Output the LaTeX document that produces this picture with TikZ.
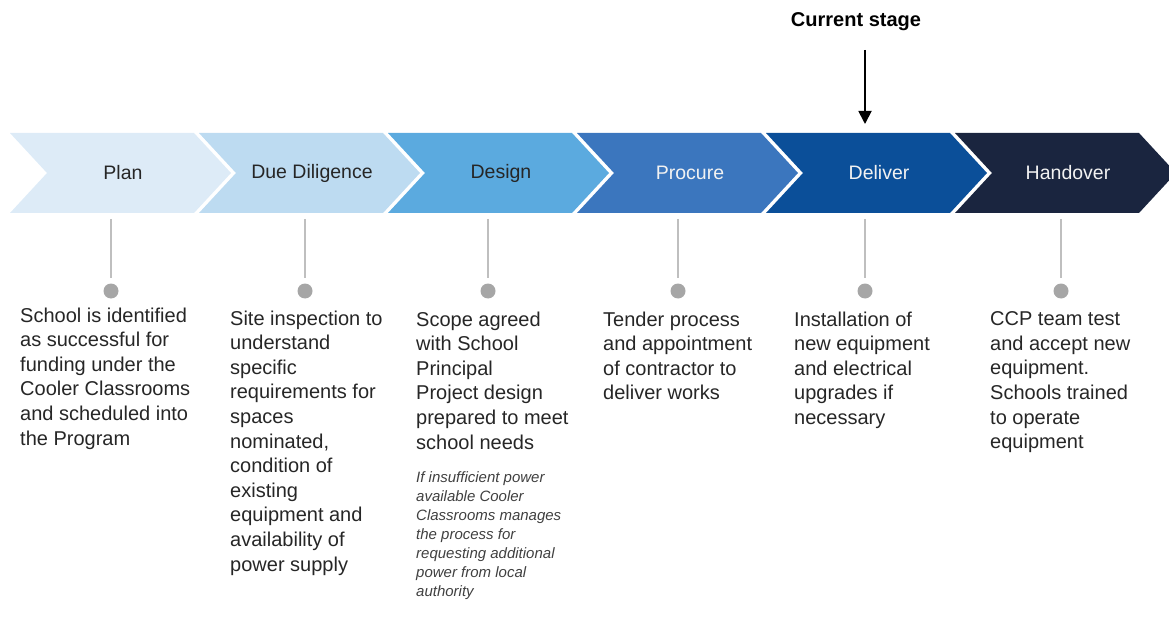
\documentclass[tikz,border=0pt]{standalone}
\usepackage{fontspec}
\setmainfont{Liberation Sans}
\usetikzlibrary{arrows.meta}
\definecolor{planc}{HTML}{DDEBF7}
\definecolor{duec}{HTML}{BDDBF1}
\definecolor{designc}{HTML}{5BAADF}
\definecolor{procurec}{HTML}{3B76BE}
\definecolor{deliverc}{HTML}{0B4F99}
\definecolor{handc}{HTML}{1A253F}
\definecolor{darktxt}{HTML}{262626}
\definecolor{lighttxt}{HTML}{F2F2F2}
\definecolor{notec}{HTML}{404040}
\definecolor{stemgray}{HTML}{BFBFBF}
\definecolor{dotgray}{HTML}{A6A6A6}
\tikzset{
  stage/.style={font=\fontsize{19.5}{24}\selectfont, inner sep=0pt},
  stem/.style={draw=stemgray, line width=1.8pt, shorten >=5pt},
  dot/.style={circle, fill=dotgray, minimum size=15pt, inner sep=0pt},
  desc/.style={anchor=north west, align=left, inner sep=0pt, text=darktxt,
    font=\fontsize{20}{24.6}\selectfont},
  note/.style={desc, text=notec, font=\fontsize{15}{19}\selectfont\itshape}
}
\begin{document}
\begin{tikzpicture}[x=1pt,y=-1pt]
    \useasboundingbox (0,0) rectangle (1169,636);
    % chevrons
    \foreach \i/\lbl/\fc/\tc in {0/Plan/planc/darktxt,1/Due Diligence/duec/darktxt,
      2/Design/designc/darktxt,3/Procure/procurec/lighttxt,
      4/Deliver/deliverc/lighttxt,5/Handover/handc/lighttxt}
    {
    \fill[\fc] ({10+189*\i},133) -- ++(184,0) -- ++(37,40) -- ++(-37,40)
      -- ++(-184,0) -- ++(37,-40) -- cycle;
    \node[stage, text=\tc] (s\i) at ({10+189*\i+113},173) {\lbl};
    }
    % current stage marker
    \node[font=\bfseries\fontsize{20}{24}\selectfont, inner sep=0pt] (cur) at (856,22) {Current stage};
    \coordinate (top) at (865,50);
    \coordinate (tip) at (865,124);
    \draw[line width=1.8pt, -{Triangle[length=13pt,width=13pt]}] (top) -- (tip);
    % stems and dots
    \coordinate (band) at (0,219);
    \foreach \i/\x in {0/111,1/305,2/488,3/678,4/865,5/1061}
    {
    \node[dot] (d\i) at (\x,291) {};
    \draw[stem] (d\i |- band) -- (d\i.north);
    }
    % descriptions
    \node[desc] (t0) at (20,307.5) {School is identified\\as successful for\\funding under the\\Cooler Classrooms\\and scheduled into\\the Program};
    \node[desc] (t1) at (230,310.5) {Site inspection to\\understand\\specific\\requirements for\\spaces\\nominated,\\condition of\\existing\\equipment and\\availability of\\power supply};
    \node[desc] (t2) at (416,311.5) {Scope agreed\\with School\\Principal\\Project design\\prepared to meet\\school needs};
    \node[note] (n2) at (416,471) {If insufficient power\\available Cooler\\Classrooms manages\\the process for\\requesting additional\\power from local\\authority};
    \node[desc] (t3) at (603,311.5) {Tender process\\and appointment\\of contractor to\\deliver works};
    \node[desc] (t4) at (794,311.5) {Installation of\\new equipment\\and electrical\\upgrades if\\necessary};
    \node[desc] (t5) at (990,311.5) {CCP team test\\and accept new\\equipment.\\Schools trained\\to operate\\equipment};
\end{tikzpicture}
\end{document}
